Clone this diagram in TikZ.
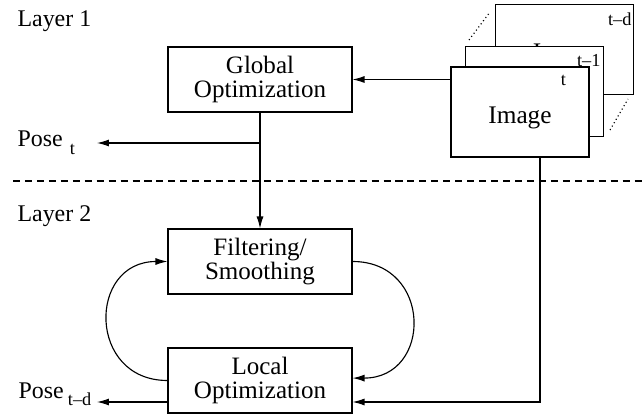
\documentclass[tikz,border=0pt]{standalone}
\usepackage{fontspec}
\setmainfont{Liberation Serif}
\usetikzlibrary{arrows.meta}

\begin{document}
\begin{tikzpicture}[x=0.025cm,y=-0.025cm,line width=0.8pt,
    box/.style={draw,minimum width=4.6cm,minimum height=1.625cm,align=center,
        inner sep=0pt,font=\fontsize{17.8}{16.5}\selectfont},
    card/.style={draw,fill=white,minimum width=3.45cm,minimum height=2.25cm,
        inner sep=0pt,font=\fontsize{18}{18}\selectfont},
    lbl/.style={anchor=base west,inner sep=0pt,font=\fontsize{17}{17}\selectfont},
    tag/.style={anchor=north east,inner sep=0pt,font=\fontsize{13}{13}\selectfont},
    arr/.style={-{Latex[length=8.5pt,width=5pt]}}]
            \useasboundingbox (0,0) rectangle (643,418);
            % image stack
            \draw[dotted] (469,40) -- (490,12);
            \draw[dotted] (610,130) -- (628,99);
            \node[card] (imgb) at (564.5,49.5) {\raisebox{-4pt}[\height][\depth]{Image}};
            \node[tag] at ([xshift=-0.05cm,yshift=-0.2cm]imgb.north east) {t--d};
            \node[card] (imgm) at (534.5,91.5) {};
            \node[tag] at ([xshift=-0.075cm,yshift=-0.2cm]imgm.north east) {t--1};
            \node[card] (img) at (520,112) {\raisebox{-4pt}[\height][\depth]{Image}};
            \node[tag] at ([xshift=-0.575cm,yshift=-0.2cm]img.north east) {t};
            % layers
            \node[lbl] (layer1) at (17,27) {Layer 1};
            \node[lbl] (layer2) at (17,222) {Layer 2};
            \draw[dashed,dash pattern=on 5pt off 3.5pt] (13,181) -- (643,181);
            \node[box] (glob) at (260,79.5) {Global\\Optimization};
            \node[box] (filt) at (260,261.5) {Filtering/\\Smoothing};
            \node[box] (loc) at (260,380.5) {Local\\Optimization};
            % outputs
            \node[lbl] (poset) at (17,147)
                {Pose\hspace{5pt}\raisebox{-5.5pt}{\fontsize{13}{13}\selectfont t}};
            \node[lbl] (posetd) at (18,398)
                {Pose\hspace{3pt}\raisebox{-5.5pt}{\fontsize{13}{13}\selectfont t--d}};
            \coordinate (ttip) at (97,143);
            \coordinate (tdtip) at (97,402);
            \coordinate (feed) at (540,157);
            % connectors
            \draw[arr] (img.west |- glob.east) -- (glob.east);
            \draw[arr] (glob.south |- ttip) -- (ttip);
            \draw[arr] (glob.south) -- (filt.north);
            \draw[arr] (loc.west |- tdtip) -- (tdtip);
            \draw[arr] (feed) |- (loc.east |- tdtip);
            \draw[arr] (filt.east) .. controls +(80,0) and +(80,0) .. ([yshift=0.06cm]loc.east);
            \draw[arr] (loc.west) .. controls +(-80,0) and +(-80,0) .. (filt.west);
        \end{tikzpicture}
\end{document}
